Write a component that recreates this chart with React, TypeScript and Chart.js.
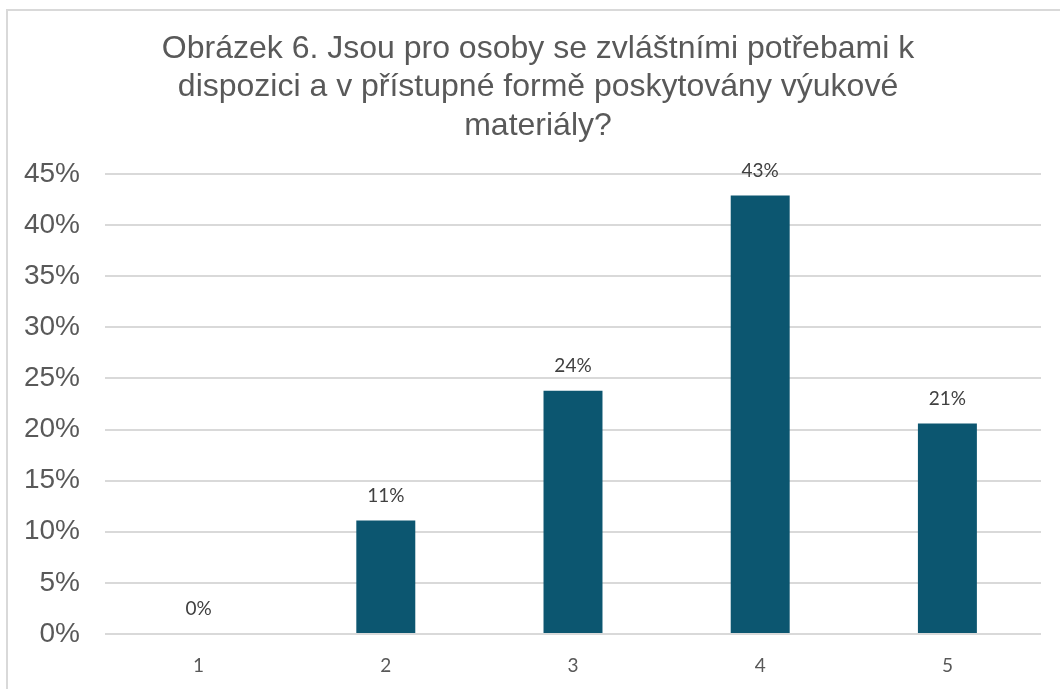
import React, { useEffect, useRef } from "react";
import { Chart, registerables } from "chart.js";

Chart.register(...registerables);

const categories = ["1", "2", "3", "4", "5"];
const values = [0, 11.1, 23.8, 42.9, 20.6];
const titleLines = [
  "Obrázek 6. Jsou pro osoby se zvláštními potřebami k",
  "dispozici a v přístupné formě poskytovány výukové",
  "materiály?",
];
const yMax = 45;
const yStep = 5;

const dataLabelPlugin = {
  id: "dataLabels",
  afterDatasetsDraw(chart: any) {
    const ctx = chart.ctx;
    const meta = chart.getDatasetMeta(0);
    ctx.save();
    ctx.font = "19px Lato, 'Open Sans', sans-serif";
    ctx.fillStyle = "#404040";
    ctx.textAlign = "center";
    ctx.textBaseline = "middle";
    meta.data.forEach((bar: any, i: number) => {
      const v = values[i];
      ctx.fillText(Math.round(v) + "%", bar.x, bar.y - 25);
    });
    ctx.restore();
  },
};

const titlePlugin = {
  id: "customTitle",
  afterDraw(chart: any) {
    const ctx = chart.ctx;
    ctx.save();
    ctx.font = "32px 'Liberation Sans', Arial, sans-serif";
    ctx.fillStyle = "#595959";
    ctx.textAlign = "center";
    ctx.textBaseline = "middle";
    const cx = 538;
    titleLines.forEach((line, i) => {
      ctx.fillText(line, cx, 49 + i * 38.5);
    });
    ctx.restore();
  },
};

export default function App() {
  const ref = useRef<HTMLCanvasElement>(null);
  useEffect(() => {
    if (!ref.current) return;
    const chart = new Chart(ref.current, {
      type: "bar",
      data: {
        labels: categories,
        datasets: [
          {
            data: values,
            backgroundColor: "#0C5670",
            barPercentage: 0.315,
            categoryPercentage: 1,
          },
        ],
      },
      options: {
        animation: false,
        responsive: false,
        devicePixelRatio: 1,
        layout: { padding: { left: 0, right: 19, top: 174, bottom: 0 } },
        plugins: {
          legend: { display: false },
          tooltip: { enabled: false },
          title: { display: false },
        },
        scales: {
          x: {
            grid: { display: false, drawTicks: false },
            border: { display: false },
            ticks: {
              color: "#595959",
              font: { family: "Lato, 'Open Sans', sans-serif", size: 19 },
              padding: 20,
            },
            afterFit(scale: any) {
              scale.height = 55;
            },
          },
          y: {
            min: 0,
            max: yMax,
            grid: { color: "#d9d9d9", lineWidth: 2, drawTicks: false },
            border: { display: false },
            ticks: {
              stepSize: yStep,
              color: "#595959",
              font: { family: "'Liberation Sans', Arial, sans-serif", size: 28 },
              padding: 25,
              callback: (v: any) => v + "%",
            },
            afterFit(scale: any) {
              scale.width = 105;
            },
          },
        },
      },
      plugins: [dataLabelPlugin, titlePlugin],
    });
    return () => chart.destroy();
  }, []);

  return (
    <div
      style={{
        position: "fixed",
        left: 0,
        top: 0,
        width: 1060,
        height: 689,
        overflow: "hidden",
        background: "#fff",
      }}
    >
      <div
        style={{
          position: "absolute",
          left: 6,
          top: 9,
          width: 1200,
          height: 900,
          border: "2px solid #d9d9d9",
          boxSizing: "border-box",
        }}
      />
      <canvas
        ref={ref}
        width={1060}
        height={689}
        style={{ position: "absolute", left: 0, top: 0, width: 1060, height: 689 }}
      />
    </div>
  );
}
